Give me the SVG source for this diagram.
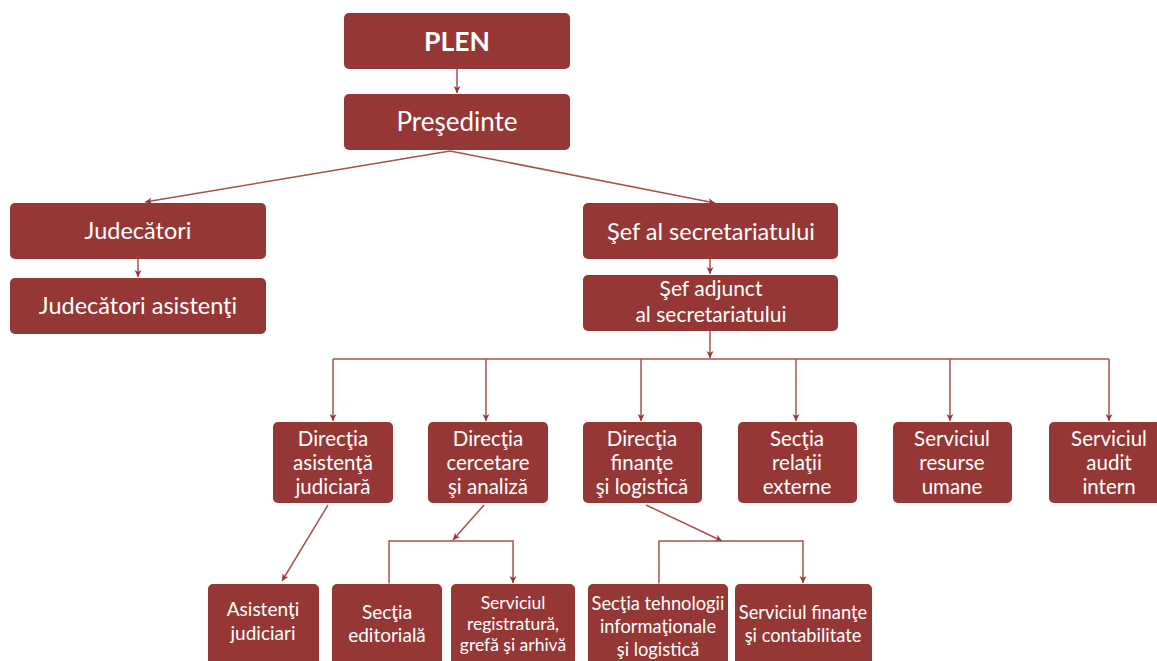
<svg xmlns="http://www.w3.org/2000/svg" width="1157" height="661" viewBox="0 0 1157 661">
<style>
.box{fill:#953735;}
.t{fill:#ffffff;font-family:Lato,"Open Sans",sans-serif;text-anchor:middle;}
.c{fill:none;stroke:#a8504e;stroke-width:1.5;}
</style>
<defs>
<marker id="ah" viewBox="0 0 10 10" refX="10" refY="5" markerWidth="7" markerHeight="9" markerUnits="userSpaceOnUse" orient="auto">
<path d="M0,0 L10,5 L0,10 L3,5 Z" fill="#953735"/>
</marker>
</defs>
<rect width="1157" height="661" fill="#ffffff"/>
<g id="connectors">
<path class="c" d="M457,69 L457,93" marker-end="url(#ah)"/>
<path class="c" d="M450,151 L145,202" marker-end="url(#ah)"/>
<path class="c" d="M450,151 L715,203" marker-end="url(#ah)"/>
<path class="c" d="M138,259 L138,277" marker-end="url(#ah)"/>
<path class="c" d="M710,259 L710,274" marker-end="url(#ah)"/>
<path class="c" d="M710,331 L710,358" marker-end="url(#ah)"/>
<path class="c" d="M333,359 L1109,359"/>
<path class="c" d="M333,359 L333,421" marker-end="url(#ah)"/>
<path class="c" d="M486,359 L486,421" marker-end="url(#ah)"/>
<path class="c" d="M641,359 L641,421" marker-end="url(#ah)"/>
<path class="c" d="M796,359 L796,421" marker-end="url(#ah)"/>
<path class="c" d="M950,359 L950,421" marker-end="url(#ah)"/>
<path class="c" d="M1109,359 L1109,421" marker-end="url(#ah)"/>
<path class="c" d="M328,505 L282,581" marker-end="url(#ah)"/>
<path class="c" d="M484,505 L453,540" marker-end="url(#ah)"/>
<path class="c" d="M389,583 L389,541 L513,541 L513,583" marker-start="url(#ah)" marker-end="url(#ah)"/>
<path class="c" d="M646,505 L722,541" marker-end="url(#ah)"/>
<path class="c" d="M659,583 L659,541 L803,541 L803,583" marker-start="url(#ah)" marker-end="url(#ah)"/>
</g>
<g id="plen"><rect class="box" x="344" y="13" width="226" height="56" rx="5"/><text class="t" x="457" y="51" font-size="26.5" font-weight="bold">PLEN</text></g>
<g id="presedinte"><rect class="box" x="344" y="94" width="226" height="56" rx="5"/><text class="t" x="457" y="131" font-size="26">Preşedinte</text></g>
<g id="judecatori"><rect class="box" x="10" y="203" width="256" height="56" rx="5"/><text class="t" x="138" y="239" font-size="23.5">Judecători</text></g>
<g id="judecatori-asistenti"><rect class="box" x="10" y="278" width="256" height="56" rx="5"/><text class="t" x="138" y="314" font-size="23.5">Judecători asistenţi</text></g>
<g id="sef"><rect class="box" x="583" y="203" width="255" height="56" rx="5"/><text class="t" x="711" y="240" font-size="23.5">Şef al secretariatului</text></g>
<g id="sef-adjunct"><rect class="box" x="583" y="275" width="255" height="56" rx="5"/><text class="t" font-size="21"><tspan x="711" y="296">Şef adjunct</tspan><tspan x="711" y="322">al secretariatului</tspan></text></g>
<g id="dir-asistenta"><rect class="box" x="273" y="422" width="120" height="81" rx="5"/><text class="t" font-size="20.5"><tspan x="333" y="446">Direcţia</tspan><tspan x="333" y="470">asistenţă</tspan><tspan x="333" y="494">judiciară</tspan></text></g>
<g id="dir-cercetare"><rect class="box" x="428" y="422" width="120" height="81" rx="5"/><text class="t" font-size="20.5"><tspan x="488" y="446">Direcţia</tspan><tspan x="488" y="470">cercetare</tspan><tspan x="488" y="494">şi analiză</tspan></text></g>
<g id="dir-finante"><rect class="box" x="583" y="422" width="119" height="81" rx="5"/><text class="t" font-size="20.5"><tspan x="642" y="446">Direcţia</tspan><tspan x="642" y="470">finanţe</tspan><tspan x="642" y="494">şi logistică</tspan></text></g>
<g id="sectia-relatii"><rect class="box" x="738" y="422" width="119" height="81" rx="5"/><text class="t" font-size="20.5"><tspan x="797" y="446">Secţia</tspan><tspan x="797" y="470">relaţii</tspan><tspan x="797" y="494">externe</tspan></text></g>
<g id="serv-resurse"><rect class="box" x="893" y="422" width="119" height="81" rx="5"/><text class="t" font-size="20.5"><tspan x="952" y="446">Serviciul</tspan><tspan x="952" y="470">resurse</tspan><tspan x="952" y="494">umane</tspan></text></g>
<g id="serv-audit"><rect class="box" x="1049" y="422" width="120" height="81" rx="5"/><text class="t" font-size="20.5"><tspan x="1109" y="446">Serviciul</tspan><tspan x="1109" y="470">audit</tspan><tspan x="1109" y="494">intern</tspan></text></g>
<g id="asistenti-judiciari"><rect class="box" x="208" y="584" width="111" height="85" rx="5"/><text class="t" font-size="19"><tspan x="263" y="616">Asistenţi</tspan><tspan x="263" y="640">judiciari</tspan></text></g>
<g id="sectia-editoriala"><rect class="box" x="332" y="584" width="110" height="85" rx="5"/><text class="t" font-size="19"><tspan x="387" y="619">Secţia</tspan><tspan x="387" y="642">editorială</tspan></text></g>
<g id="serv-registratura"><rect class="box" x="451" y="584" width="124" height="85" rx="5"/><text class="t" font-size="17.5"><tspan x="513" y="609">Serviciul</tspan><tspan x="513" y="630">registratură,</tspan><tspan x="513" y="651">grefă şi arhivă</tspan></text></g>
<g id="sectia-tehnologii"><rect class="box" x="588" y="584" width="140" height="85" rx="5"/><text class="t" font-size="18.3"><tspan x="658" y="610">Secţia tehnologii</tspan><tspan x="658" y="633">informaţionale</tspan><tspan x="658" y="656">şi logistică</tspan></text></g>
<g id="serv-finante"><rect class="box" x="735" y="584" width="137" height="85" rx="5"/><text class="t" font-size="18.3"><tspan x="803" y="619">Serviciul finanţe</tspan><tspan x="803" y="642">şi contabilitate</tspan></text></g>
</svg>
